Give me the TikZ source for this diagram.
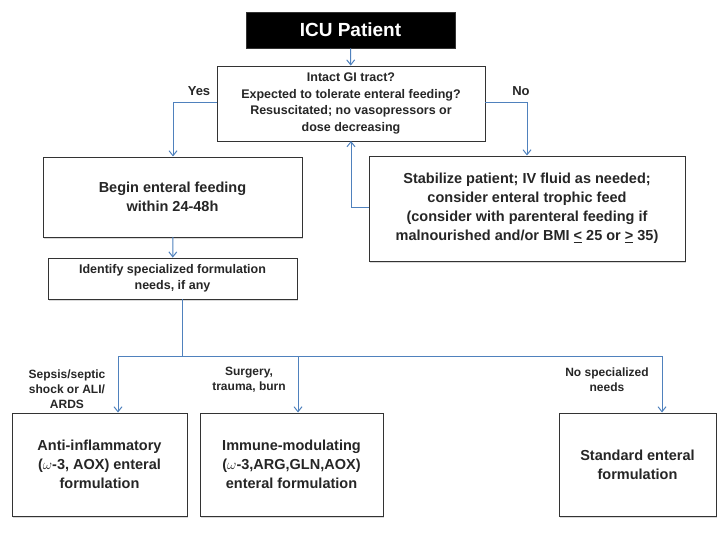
\documentclass[tikz,border=0pt]{standalone}
\usepackage{fontspec}
\setmainfont{Liberation Sans}
\usetikzlibrary{shadows,arrows.meta}
\definecolor{ln}{RGB}{79,129,189}
\definecolor{tx}{RGB}{38,38,38}
\begin{document}
\begin{tikzpicture}[x=1pt,y=-1pt,
 box/.style={draw=black!80,line width=0.8pt,fill=white,align=center,text=tx,font=\bfseries,inner sep=0pt,drop shadow={shadow xshift=1pt,shadow yshift=-1.5pt,opacity=0.3}},
 con/.style={draw=ln,line width=1pt,-{Straight Barb[length=5pt,width=8pt]}},
 lbl/.style={align=center,text=tx,font=\bfseries\fontsize{12}{15}\selectfont}]
\useasboundingbox (0,0) rectangle (720,540);
\node[box,fill=black,text=white,minimum width=209pt,minimum height=36pt,font=\bfseries\fontsize{19}{22}\selectfont] (icu) at (350.5,30) {ICU Patient};
\node[box,minimum width=268pt,minimum height=75pt,font=\bfseries\fontsize{12.5}{16.5}\selectfont] (dec) at (351,103.5) {Intact GI tract?\\Expected to tolerate enteral feeding?\\Resuscitated; no vasopressors or\\dose decreasing};
\node[box,minimum width=259pt,minimum height=80pt,font=\bfseries\fontsize{14.5}{19}\selectfont] (beg) at (172.5,197) {Begin enteral feeding\\within 24-48h};
\node[box,minimum width=316pt,minimum height=105pt,font=\bfseries\fontsize{14.5}{19}\selectfont] (stab) at (527,208.5) {Stabilize patient; IV fluid as needed;\\consider enteral trophic feed\\(consider with parenteral feeding if\\malnourished and/or BMI \underline{<} 25 or \underline{>} 35)};
\node[box,minimum width=249pt,minimum height=41pt,font=\bfseries\fontsize{12.5}{16}\selectfont] (idf) at (172.5,278.5) {Identify specialized formulation\\needs, if any};
\node[box,minimum width=175pt,minimum height=103pt,font=\bfseries\fontsize{14.5}{19}\selectfont] (b1) at (99.5,464.5) {Anti-inflammatory\\($\omega$-3, AOX) enteral\\formulation};
\node[box,minimum width=183pt,minimum height=103pt,font=\bfseries\fontsize{14.5}{19}\selectfont] (b2) at (291.5,464.5) {Immune-modulating\\($\omega$-3,ARG,GLN,AOX)\\enteral formulation};
\node[box,minimum width=157pt,minimum height=103pt,font=\bfseries\fontsize{14.5}{19}\selectfont] (b3) at (637.5,464.5) {Standard enteral\\formulation};
\draw[con] (icu) -- (dec);
\draw[con] (dec.west|-0,103) -| (173,156.5) coordinate (y1);
\draw[con] (dec.east|-0,103) -| (527,155.5);
\draw[con] (stab.west|-0,208) -| (351,141);
\draw[con] (173,237) -- (idf);
\coordinate (j) at (182,356);
\draw[ln,line width=1pt] (182,299) -- (j);
\draw[con] (j) -| (118,412.5);
\draw[con] (j) -| (298,412.5);
\draw[con] (j) -| (662,412.5);
\node[lbl,font=\bfseries\fontsize{13}{16}\selectfont] (yes) at (199,91) {Yes};
\node[lbl,font=\bfseries\fontsize{13}{16}\selectfont] (no) at (521,91) {No};
\node[lbl] (l1) at (67,389) {Sepsis/septic\\shock or ALI/\\ARDS};
\node[lbl] (l2) at (249,380) {Surgery,\\trauma, burn};
\node[lbl] (l3) at (607,380) {No specialized\\needs};
\end{tikzpicture}
\end{document}
